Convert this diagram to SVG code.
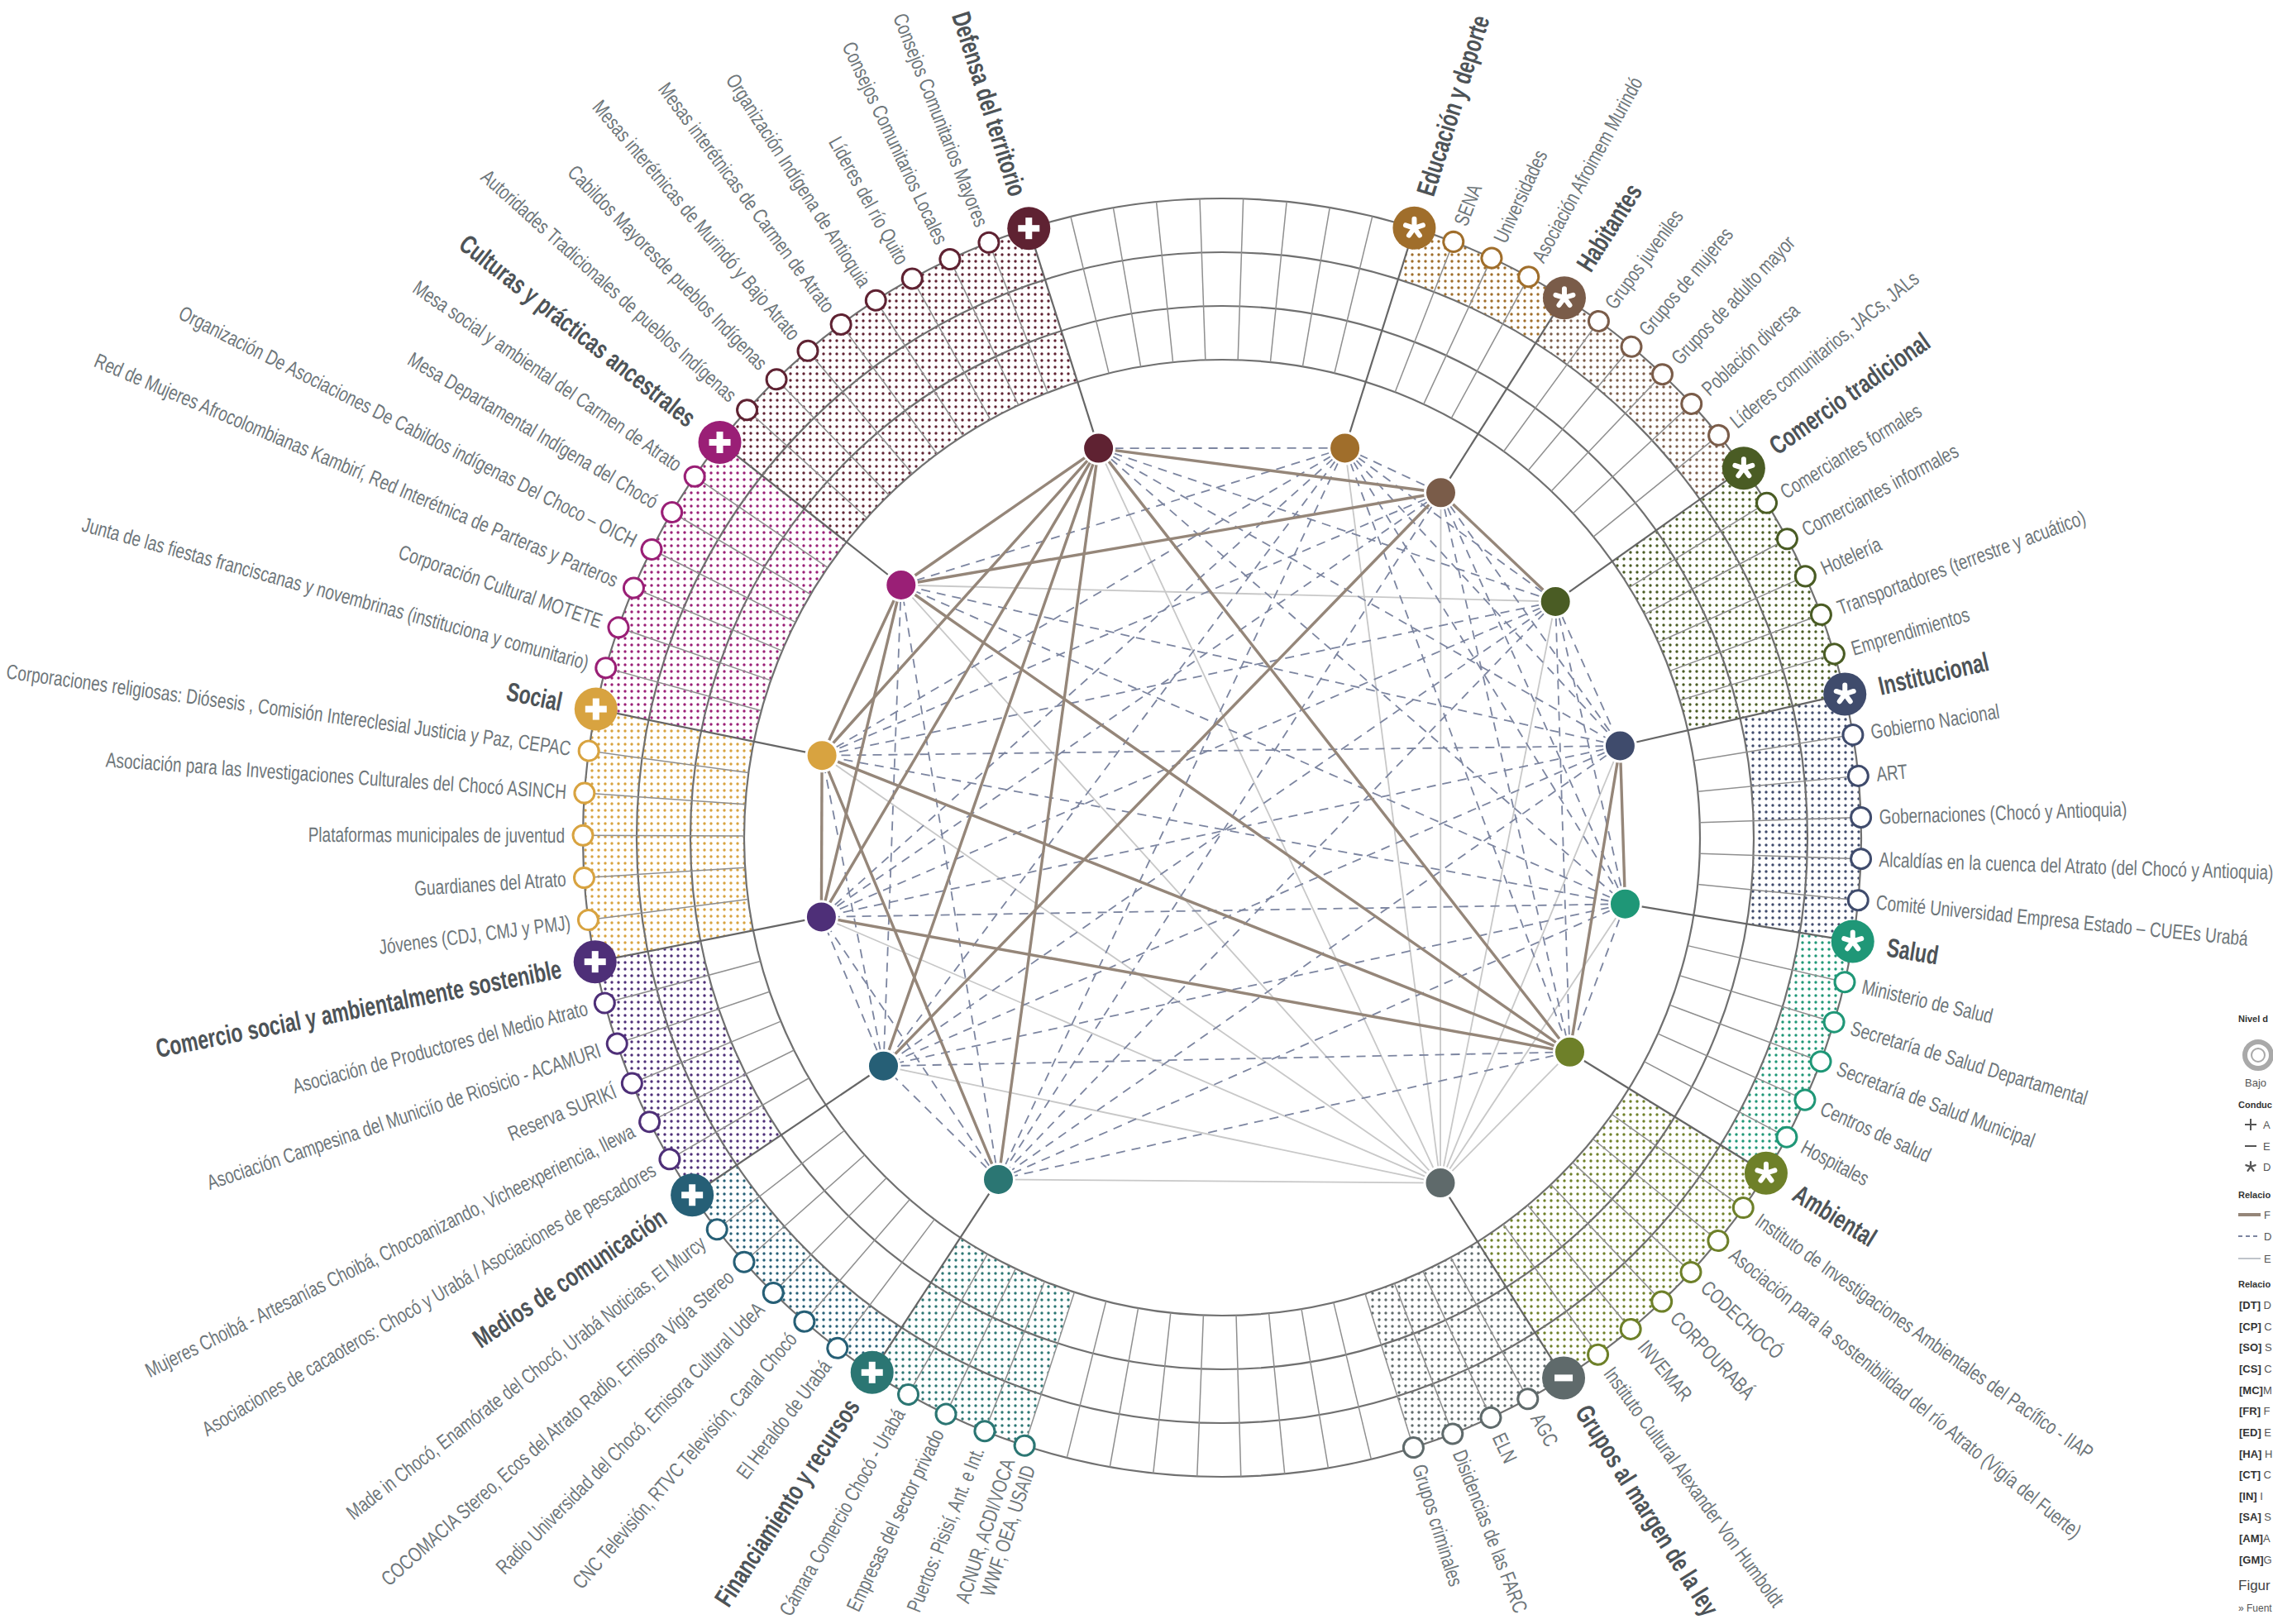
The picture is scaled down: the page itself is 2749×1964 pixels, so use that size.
<svg xmlns="http://www.w3.org/2000/svg" width="2749" height="1964" viewBox="0 0 2749 1964">
<style>
.ring{fill:none;stroke:#707070;stroke-width:2.2}
.rad{stroke:#8f8f8f;stroke-width:1.5}
.cl{stroke:#666;stroke-width:2.2}
.mc{fill:#fff;stroke-width:3}
.ml{font-family:"Liberation Sans",Arial,sans-serif;font-size:25px;fill:#6e767a}
.ct{font-family:"Liberation Sans",Arial,sans-serif;font-size:32px;font-weight:bold;fill:#4d5357}
.ll{text-anchor:end}
.st{stroke:#958679;stroke-width:3.4;fill:none}
.da{stroke:#7c85a0;stroke-width:1.8;stroke-dasharray:11 8;fill:none}
.lt{stroke:#c8c8c8;stroke-width:1.8;fill:none}
.in{stroke:#fff;stroke-width:3}
.sec{fill:none}
.lg{font-family:"Liberation Sans",Arial,sans-serif;font-size:13px;fill:#555}
.lgh{font-family:"Liberation Sans",Arial,sans-serif;font-size:11px;font-weight:bold;fill:#333}
.cD .mc{stroke:#5f2232}.cE .mc{stroke:#a06e2b}.cH .mc{stroke:#7a5c49}.cCT .mc{stroke:#4a5c24}
.cI .mc{stroke:#3f4b6c}.cS .mc{stroke:#1f9777}.cA .mc{stroke:#6e8029}.cG .mc{stroke:#5f6a6b}
.cF .mc{stroke:#2b7673}.cM .mc{stroke:#265f76}.cCS .mc{stroke:#4e2f78}.cSO .mc{stroke:#d8a340}.cCP .mc{stroke:#9a1f76}
</style>
<defs>
<pattern id="pD" width="8" height="8" patternUnits="userSpaceOnUse"><circle cx="4" cy="4" r="1.7" fill="#5f2232"/></pattern>
<pattern id="pE" width="8" height="8" patternUnits="userSpaceOnUse"><circle cx="4" cy="4" r="1.7" fill="#a06e2b"/></pattern>
<pattern id="pH" width="8" height="8" patternUnits="userSpaceOnUse"><circle cx="4" cy="4" r="1.7" fill="#7a5c49"/></pattern>
<pattern id="pCT" width="8" height="8" patternUnits="userSpaceOnUse"><circle cx="4" cy="4" r="1.7" fill="#4a5c24"/></pattern>
<pattern id="pI" width="8" height="8" patternUnits="userSpaceOnUse"><circle cx="4" cy="4" r="1.7" fill="#3f4b6c"/></pattern>
<pattern id="pS" width="8" height="8" patternUnits="userSpaceOnUse"><circle cx="4" cy="4" r="1.7" fill="#1f9777"/></pattern>
<pattern id="pA" width="8" height="8" patternUnits="userSpaceOnUse"><circle cx="4" cy="4" r="1.7" fill="#6e8029"/></pattern>
<pattern id="pG" width="8" height="8" patternUnits="userSpaceOnUse"><circle cx="4" cy="4" r="1.7" fill="#5f6a6b"/></pattern>
<pattern id="pF" width="8" height="8" patternUnits="userSpaceOnUse"><circle cx="4" cy="4" r="1.7" fill="#2b7673"/></pattern>
<pattern id="pM" width="8" height="8" patternUnits="userSpaceOnUse"><circle cx="4" cy="4" r="1.7" fill="#265f76"/></pattern>
<pattern id="pCS" width="8" height="8" patternUnits="userSpaceOnUse"><circle cx="4" cy="4" r="1.7" fill="#4e2f78"/></pattern>
<pattern id="pSO" width="8" height="8" patternUnits="userSpaceOnUse"><circle cx="4" cy="4" r="1.7" fill="#d8a340"/></pattern>
<pattern id="pCP" width="8" height="8" patternUnits="userSpaceOnUse"><circle cx="4" cy="4" r="1.7" fill="#9a1f76"/></pattern>
<line id="rl" x1="0" y1="-773" x2="0" y2="-578"/>
<line id="cln" x1="0" y1="-773" x2="0" y2="-494"/>
<g id="plus" fill="#fff"><rect x="-13" y="-4" width="26" height="8"/><rect x="-4" y="-13" width="8" height="26"/></g>
<path id="ast" d="M0 0V-11M0 0L10.5 -3.4M0 0L6.5 8.9M0 0L-6.5 8.9M0 0L-10.5 -3.4" stroke="#fff" stroke-width="6" stroke-linecap="round" fill="none"/>
<rect id="minus" x="-11" y="-4" width="22" height="8" fill="#fff"/>
</defs>
<rect width="2749" height="1964" fill="#fff"/>

<g id="sectors">
<circle class="sec" cx="1478" cy="1013" r="740.5" stroke="url(#pE)" stroke-width="65" stroke-dasharray="0 3715.7 192.3 6000"/>
<circle class="sec" cx="1478" cy="1013" r="740.5" stroke="url(#pH)" stroke-width="65" stroke-dasharray="0 3907.9 288.5 6000"/>
<circle class="sec" cx="1478" cy="1013" r="675.5" stroke="url(#pCT)" stroke-width="195" stroke-dasharray="0 3828.2 263.2 6000"/>
<circle class="sec" cx="1478" cy="1013" r="708" stroke="url(#pI)" stroke-width="130" stroke-dasharray="0 2063.9 275.8 6000" transform="rotate(180 1478 1013)"/>
<circle class="sec" cx="1478" cy="1013" r="740.5" stroke="url(#pS)" stroke-width="65" stroke-dasharray="0 120.7 288.5 6000"/>
<circle class="sec" cx="1478" cy="1013" r="675.5" stroke="url(#pA)" stroke-width="195" stroke-dasharray="0 373.3 307 6000"/>
<circle class="sec" cx="1478" cy="1013" r="675.5" stroke="url(#pG)" stroke-width="195" stroke-dasharray="0 680.3 175.4 6000"/>
<circle class="sec" cx="1478" cy="1013" r="675.5" stroke="url(#pF)" stroke-width="195" stroke-dasharray="0 1273.3 179.2 6000"/>
<circle class="sec" cx="1478" cy="1013" r="740.5" stroke="url(#pM)" stroke-width="65" stroke-dasharray="0 1592.2 294.7 6000"/>
<circle class="sec" cx="1478" cy="1013" r="708" stroke="url(#pCS)" stroke-width="130" stroke-dasharray="0 1804.1 281.7 6000"/>
<circle class="sec" cx="1478" cy="1013" r="675.5" stroke="url(#pSO)" stroke-width="195" stroke-dasharray="0 1990.2 268.8 6000"/>
<circle class="sec" cx="1478" cy="1013" r="675.5" stroke="url(#pCP)" stroke-width="195" stroke-dasharray="0 2259 313.6 6000"/>
<circle class="sec" cx="1478" cy="1013" r="675.5" stroke="url(#pD)" stroke-width="195" stroke-dasharray="0 2572.6 403.2 6000"/>
</g>

<g id="rings">
<circle class="ring" cx="1478" cy="1013" r="773"/>
<circle class="ring" cx="1478" cy="1013" r="708"/>
<circle class="ring" cx="1478" cy="1013" r="643"/>
<circle class="ring" cx="1478" cy="1013" r="578"/>
</g>

<g id="grid" class="rad" transform="translate(1478 1013)">
<use href="#rl" transform="rotate(21.22)"/><use href="#rl" transform="rotate(24.94)"/><use href="#rl" transform="rotate(28.66)"/>
<use href="#rl" transform="rotate(36.1)"/><use href="#rl" transform="rotate(39.82)"/><use href="#rl" transform="rotate(43.54)"/><use href="#rl" transform="rotate(47.26)"/><use href="#rl" transform="rotate(50.98)"/>
<use href="#rl" transform="rotate(58.42)"/><use href="#rl" transform="rotate(62.14)"/><use href="#rl" transform="rotate(65.86)"/><use href="#rl" transform="rotate(69.58)"/><use href="#rl" transform="rotate(73.3)"/>
<use href="#rl" transform="rotate(80.74)"/><use href="#rl" transform="rotate(84.46)"/><use href="#rl" transform="rotate(88.18)"/><use href="#rl" transform="rotate(91.9)"/><use href="#rl" transform="rotate(95.62)"/>
<use href="#rl" transform="rotate(103.06)"/><use href="#rl" transform="rotate(106.78)"/><use href="#rl" transform="rotate(110.5)"/><use href="#rl" transform="rotate(114.22)"/><use href="#rl" transform="rotate(117.94)"/>
<use href="#rl" transform="rotate(125.38)"/><use href="#rl" transform="rotate(129.1)"/><use href="#rl" transform="rotate(132.82)"/><use href="#rl" transform="rotate(136.54)"/><use href="#rl" transform="rotate(140.26)"/><use href="#rl" transform="rotate(143.98)"/>
<use href="#rl" transform="rotate(151.42)"/><use href="#rl" transform="rotate(155.14)"/><use href="#rl" transform="rotate(158.86)"/><use href="#rl" transform="rotate(162.58)"/>
<use href="#rl" transform="rotate(166.51)"/><use href="#rl" transform="rotate(170.44)"/><use href="#rl" transform="rotate(174.38)"/><use href="#rl" transform="rotate(178.31)"/><use href="#rl" transform="rotate(182.24)"/><use href="#rl" transform="rotate(186.18)"/><use href="#rl" transform="rotate(190.11)"/><use href="#rl" transform="rotate(194.05)"/>
<use href="#rl" transform="rotate(198)"/><use href="#rl" transform="rotate(201.8)"/><use href="#rl" transform="rotate(205.6)"/><use href="#rl" transform="rotate(209.4)"/>
<use href="#rl" transform="rotate(217)"/><use href="#rl" transform="rotate(220.8)"/><use href="#rl" transform="rotate(224.6)"/><use href="#rl" transform="rotate(228.4)"/><use href="#rl" transform="rotate(232.2)"/>
<use href="#rl" transform="rotate(239.8)"/><use href="#rl" transform="rotate(243.6)"/><use href="#rl" transform="rotate(247.4)"/><use href="#rl" transform="rotate(251.2)"/><use href="#rl" transform="rotate(255)"/>
<use href="#rl" transform="rotate(262.6)"/><use href="#rl" transform="rotate(266.4)"/><use href="#rl" transform="rotate(270.2)"/><use href="#rl" transform="rotate(274)"/><use href="#rl" transform="rotate(277.8)"/>
<use href="#rl" transform="rotate(285.4)"/><use href="#rl" transform="rotate(289.2)"/><use href="#rl" transform="rotate(293)"/><use href="#rl" transform="rotate(296.8)"/><use href="#rl" transform="rotate(300.6)"/><use href="#rl" transform="rotate(304.4)"/>
<use href="#rl" transform="rotate(312)"/><use href="#rl" transform="rotate(315.8)"/><use href="#rl" transform="rotate(319.6)"/><use href="#rl" transform="rotate(323.4)"/><use href="#rl" transform="rotate(327.2)"/><use href="#rl" transform="rotate(331)"/><use href="#rl" transform="rotate(334.8)"/><use href="#rl" transform="rotate(338.6)"/>
<use href="#rl" transform="rotate(346.3)"/><use href="#rl" transform="rotate(350.2)"/><use href="#rl" transform="rotate(354.1)"/><use href="#rl" transform="rotate(358)"/><use href="#rl" transform="rotate(1.9)"/><use href="#rl" transform="rotate(5.8)"/><use href="#rl" transform="rotate(9.7)"/><use href="#rl" transform="rotate(13.6)"/>
</g>

<g id="connectors">
<g class="cl" transform="translate(1478 1013)">
<use href="#cln" transform="rotate(17.5)"/><use href="#cln" transform="rotate(32.38)"/><use href="#cln" transform="rotate(54.7)"/><use href="#cln" transform="rotate(77.02)"/><use href="#cln" transform="rotate(99.34)"/><use href="#cln" transform="rotate(121.66)"/><use href="#cln" transform="rotate(147.7)"/><use href="#cln" transform="rotate(213.2)"/><use href="#cln" transform="rotate(236)"/><use href="#cln" transform="rotate(258.8)"/><use href="#cln" transform="rotate(281.6)"/><use href="#cln" transform="rotate(308.2)"/><use href="#cln" transform="rotate(342.4)"/>
</g>
<g class="lt">
<line x1="1742" y1="1430.6" x2="1328.6" y2="542.1"/>
<line x1="1742" y1="1430.6" x2="1626.6" y2="541.9"/>
<line x1="1742" y1="1430.6" x2="1742.5" y2="595.8"/>
<line x1="1742" y1="1430.6" x2="1881.2" y2="727.5"/>
<line x1="1742" y1="1430.6" x2="1959.4" y2="902"/>
<line x1="1742" y1="1430.6" x2="1965.5" y2="1093.2"/>
<line x1="1742" y1="1430.6" x2="1898.5" y2="1272.3"/>
<line x1="1742" y1="1430.6" x2="1207.5" y2="1426.4"/>
<line x1="1742" y1="1430.6" x2="1068.5" y2="1289.2"/>
<line x1="1742" y1="1430.6" x2="993.4" y2="1108.9"/>
<line x1="1742" y1="1430.6" x2="994.1" y2="913.7"/>
<line x1="1742" y1="1430.6" x2="1089.8" y2="707.5"/>
<line x1="1089.8" y1="707.5" x2="1881.2" y2="727.5"/>
</g>
<g class="da">
<line x1="1328.6" y1="542.1" x2="1626.6" y2="541.9"/>
<line x1="1328.6" y1="542.1" x2="1881.2" y2="727.5"/>
<line x1="1328.6" y1="542.1" x2="1959.4" y2="902"/>
<line x1="1328.6" y1="542.1" x2="1965.5" y2="1093.2"/>
<line x1="1626.6" y1="541.9" x2="1742.5" y2="595.8"/>
<line x1="1626.6" y1="541.9" x2="1881.2" y2="727.5"/>
<line x1="1626.6" y1="541.9" x2="1959.4" y2="902"/>
<line x1="1626.6" y1="541.9" x2="1965.5" y2="1093.2"/>
<line x1="1626.6" y1="541.9" x2="1898.5" y2="1272.3"/>
<line x1="1626.6" y1="541.9" x2="1207.5" y2="1426.4"/>
<line x1="1626.6" y1="541.9" x2="1068.5" y2="1289.2"/>
<line x1="1626.6" y1="541.9" x2="993.4" y2="1108.9"/>
<line x1="1626.6" y1="541.9" x2="994.1" y2="913.7"/>
<line x1="1626.6" y1="541.9" x2="1089.8" y2="707.5"/>
<line x1="1742.5" y1="595.8" x2="1959.4" y2="902"/>
<line x1="1742.5" y1="595.8" x2="1965.5" y2="1093.2"/>
<line x1="1742.5" y1="595.8" x2="1898.5" y2="1272.3"/>
<line x1="1742.5" y1="595.8" x2="1207.5" y2="1426.4"/>
<line x1="1742.5" y1="595.8" x2="993.4" y2="1108.9"/>
<line x1="1742.5" y1="595.8" x2="994.1" y2="913.7"/>
<line x1="1881.2" y1="727.5" x2="1959.4" y2="902"/>
<line x1="1881.2" y1="727.5" x2="1965.5" y2="1093.2"/>
<line x1="1881.2" y1="727.5" x2="1898.5" y2="1272.3"/>
<line x1="1881.2" y1="727.5" x2="1207.5" y2="1426.4"/>
<line x1="1881.2" y1="727.5" x2="1068.5" y2="1289.2"/>
<line x1="1881.2" y1="727.5" x2="993.4" y2="1108.9"/>
<line x1="1881.2" y1="727.5" x2="994.1" y2="913.7"/>
<line x1="1959.4" y1="902" x2="1207.5" y2="1426.4"/>
<line x1="1959.4" y1="902" x2="1068.5" y2="1289.2"/>
<line x1="1959.4" y1="902" x2="993.4" y2="1108.9"/>
<line x1="1959.4" y1="902" x2="994.1" y2="913.7"/>
<line x1="1959.4" y1="902" x2="1089.8" y2="707.5"/>
<line x1="1965.5" y1="1093.2" x2="1898.5" y2="1272.3"/>
<line x1="1965.5" y1="1093.2" x2="1207.5" y2="1426.4"/>
<line x1="1965.5" y1="1093.2" x2="1068.5" y2="1289.2"/>
<line x1="1965.5" y1="1093.2" x2="993.4" y2="1108.9"/>
<line x1="1965.5" y1="1093.2" x2="994.1" y2="913.7"/>
<line x1="1965.5" y1="1093.2" x2="1089.8" y2="707.5"/>
<line x1="1898.5" y1="1272.3" x2="1207.5" y2="1426.4"/>
<line x1="1898.5" y1="1272.3" x2="1068.5" y2="1289.2"/>
<line x1="1207.5" y1="1426.4" x2="1068.5" y2="1289.2"/>
<line x1="1207.5" y1="1426.4" x2="993.4" y2="1108.9"/>
<line x1="1207.5" y1="1426.4" x2="1089.8" y2="707.5"/>
<line x1="1068.5" y1="1289.2" x2="993.4" y2="1108.9"/>
<line x1="1068.5" y1="1289.2" x2="994.1" y2="913.7"/>
<line x1="1068.5" y1="1289.2" x2="1089.8" y2="707.5"/>
</g>
<g class="st">
<line x1="1328.6" y1="542.1" x2="1742.5" y2="595.8"/>
<line x1="1328.6" y1="542.1" x2="1089.8" y2="707.5"/>
<line x1="1328.6" y1="542.1" x2="994.1" y2="913.7"/>
<line x1="1328.6" y1="542.1" x2="993.4" y2="1108.9"/>
<line x1="1328.6" y1="542.1" x2="1068.5" y2="1289.2"/>
<line x1="1328.6" y1="542.1" x2="1207.5" y2="1426.4"/>
<line x1="1328.6" y1="542.1" x2="1898.5" y2="1272.3"/>
<line x1="1742.5" y1="595.8" x2="1881.2" y2="727.5"/>
<line x1="1742.5" y1="595.8" x2="1089.8" y2="707.5"/>
<line x1="1742.5" y1="595.8" x2="1068.5" y2="1289.2"/>
<line x1="1089.8" y1="707.5" x2="994.1" y2="913.7"/>
<line x1="1089.8" y1="707.5" x2="993.4" y2="1108.9"/>
<line x1="1089.8" y1="707.5" x2="1898.5" y2="1272.3"/>
<line x1="994.1" y1="913.7" x2="993.4" y2="1108.9"/>
<line x1="994.1" y1="913.7" x2="1207.5" y2="1426.4"/>
<line x1="994.1" y1="913.7" x2="1898.5" y2="1272.3"/>
<line x1="993.4" y1="1108.9" x2="1898.5" y2="1272.3"/>
<line x1="1959.4" y1="902" x2="1965.5" y2="1093.2"/>
<line x1="1959.4" y1="902" x2="1898.5" y2="1272.3"/>
</g>
</g>

<g id="inner-nodes" class="in">
<circle id="in-D" cx="1328.6" cy="542.1" r="19" fill="#5f2232"/>
<circle id="in-E" cx="1626.6" cy="541.9" r="19" fill="#a06e2b"/>
<circle id="in-H" cx="1742.5" cy="595.8" r="19" fill="#7a5c49"/>
<circle id="in-CT" cx="1881.2" cy="727.5" r="19" fill="#4a5c24"/>
<circle id="in-I" cx="1959.4" cy="902" r="19" fill="#3f4b6c"/>
<circle id="in-S" cx="1965.5" cy="1093.2" r="19" fill="#1f9777"/>
<circle id="in-A" cx="1898.5" cy="1272.3" r="19" fill="#6e8029"/>
<circle id="in-G" cx="1742" cy="1430.6" r="19" fill="#5f6a6b"/>
<circle id="in-F" cx="1207.5" cy="1426.4" r="19" fill="#2b7673"/>
<circle id="in-M" cx="1068.5" cy="1289.2" r="19" fill="#265f76"/>
<circle id="in-CS" cx="993.4" cy="1108.9" r="19" fill="#4e2f78"/>
<circle id="in-SO" cx="994.1" cy="913.7" r="19" fill="#d8a340"/>
<circle id="in-CP" cx="1089.8" cy="707.5" r="19" fill="#9a1f76"/>
</g>

<g id="ring-nodes" transform="translate(1478 1013)">
<g id="cat-E" class="cE">
<g id="node-E" transform="rotate(17.5)"><g transform="translate(0 -773) rotate(-17.5)"><circle r="26" fill="#a06e2b"/><use href="#ast"/></g><text class="ct" transform="translate(0 -815) rotate(-90) scale(.72 1)" dy=".35em">Educación y deporte</text></g>
<g id="m-E1" transform="rotate(21.22)"><circle class="mc" cy="-773" r="12"/><text class="ml" transform="translate(0 -795) rotate(-90) scale(.76 1)" dy=".35em">SENA</text></g>
<g id="m-E2" transform="rotate(24.94)"><circle class="mc" cy="-773" r="12"/><text class="ml" transform="translate(0 -795) rotate(-90) scale(.76 1)" dy=".35em">Universidades</text></g>
<g id="m-E3" transform="rotate(28.66)"><circle class="mc" cy="-773" r="12"/><text class="ml" transform="translate(0 -795) rotate(-90) scale(.76 1)" dy=".35em">Asociación Afroimem Murindó</text></g>
</g>
<g id="cat-H" class="cH">
<g id="node-H" transform="rotate(32.38)"><g transform="translate(0 -773) rotate(-32.38)"><circle r="26" fill="#7a5c49"/><use href="#ast"/></g><text class="ct" transform="translate(0 -815) rotate(-90) scale(.72 1)" dy=".35em">Habitantes</text></g>
<g id="m-H1" transform="rotate(36.1)"><circle class="mc" cy="-773" r="12"/><text class="ml" transform="translate(0 -795) rotate(-90) scale(.76 1)" dy=".35em">Grupos juveniles</text></g>
<g id="m-H2" transform="rotate(39.82)"><circle class="mc" cy="-773" r="12"/><text class="ml" transform="translate(0 -795) rotate(-90) scale(.76 1)" dy=".35em">Grupos de mujeres</text></g>
<g id="m-H3" transform="rotate(43.54)"><circle class="mc" cy="-773" r="12"/><text class="ml" transform="translate(0 -795) rotate(-90) scale(.76 1)" dy=".35em">Grupos de adulto mayor</text></g>
<g id="m-H4" transform="rotate(47.26)"><circle class="mc" cy="-773" r="12"/><text class="ml" transform="translate(0 -795) rotate(-90) scale(.76 1)" dy=".35em">Población diversa</text></g>
<g id="m-H5" transform="rotate(50.98)"><circle class="mc" cy="-773" r="12"/><text class="ml" transform="translate(0 -795) rotate(-90) scale(.76 1)" dy=".35em">Líderes comunitarios, JACs, JALs</text></g>
</g>
<g id="cat-CT" class="cCT">
<g id="node-CT" transform="rotate(54.7)"><g transform="translate(0 -773) rotate(-54.7)"><circle r="26" fill="#4a5c24"/><use href="#ast"/></g><text class="ct" transform="translate(0 -815) rotate(-90) scale(.72 1)" dy=".35em">Comercio tradicional</text></g>
<g id="m-CT1" transform="rotate(58.42)"><circle class="mc" cy="-773" r="12"/><text class="ml" transform="translate(0 -795) rotate(-90) scale(.76 1)" dy=".35em">Comerciantes formales</text></g>
<g id="m-CT2" transform="rotate(62.14)"><circle class="mc" cy="-773" r="12"/><text class="ml" transform="translate(0 -795) rotate(-90) scale(.76 1)" dy=".35em">Comerciantes informales</text></g>
<g id="m-CT3" transform="rotate(65.86)"><circle class="mc" cy="-773" r="12"/><text class="ml" transform="translate(0 -795) rotate(-90) scale(.76 1)" dy=".35em">Hotelería</text></g>
<g id="m-CT4" transform="rotate(69.58)"><circle class="mc" cy="-773" r="12"/><text class="ml" transform="translate(0 -795) rotate(-90) scale(.76 1)" dy=".35em">Transportadores (terrestre y acuático)</text></g>
<g id="m-CT5" transform="rotate(73.3)"><circle class="mc" cy="-773" r="12"/><text class="ml" transform="translate(0 -795) rotate(-90) scale(.76 1)" dy=".35em">Emprendimientos</text></g>
</g>
<g id="cat-I" class="cI">
<g id="node-I" transform="rotate(77.02)"><g transform="translate(0 -773) rotate(-77.02)"><circle r="26" fill="#3f4b6c"/><use href="#ast"/></g><text class="ct" transform="translate(0 -815) rotate(-90) scale(.72 1)" dy=".35em">Institucional</text></g>
<g id="m-I1" transform="rotate(80.74)"><circle class="mc" cy="-773" r="12"/><text class="ml" transform="translate(0 -795) rotate(-90) scale(.76 1)" dy=".35em">Gobierno Nacional</text></g>
<g id="m-I2" transform="rotate(84.46)"><circle class="mc" cy="-773" r="12"/><text class="ml" transform="translate(0 -795) rotate(-90) scale(.76 1)" dy=".35em">ART</text></g>
<g id="m-I3" transform="rotate(88.18)"><circle class="mc" cy="-773" r="12"/><text class="ml" transform="translate(0 -795) rotate(-90) scale(.76 1)" dy=".35em">Gobernaciones (Chocó y Antioquia)</text></g>
<g id="m-I4" transform="rotate(91.9)"><circle class="mc" cy="-773" r="12"/><text class="ml" transform="translate(0 -795) rotate(-90) scale(.76 1)" dy=".35em">Alcaldías en la cuenca del Atrato (del Chocó y Antioquia)</text></g>
<g id="m-I5" transform="rotate(95.62)"><circle class="mc" cy="-773" r="12"/><text class="ml" transform="translate(0 -795) rotate(-90) scale(.76 1)" dy=".35em">Comité Universidad Empresa Estado – CUEEs Urabá</text></g>
</g>
<g id="cat-S" class="cS">
<g id="node-S" transform="rotate(99.34)"><g transform="translate(0 -773) rotate(-99.34)"><circle r="26" fill="#1f9777"/><use href="#ast"/></g><text class="ct" transform="translate(0 -815) rotate(-90) scale(.72 1)" dy=".35em">Salud</text></g>
<g id="m-S1" transform="rotate(103.06)"><circle class="mc" cy="-773" r="12"/><text class="ml" transform="translate(0 -795) rotate(-90) scale(.76 1)" dy=".35em">Ministerio de Salud</text></g>
<g id="m-S2" transform="rotate(106.78)"><circle class="mc" cy="-773" r="12"/><text class="ml" transform="translate(0 -795) rotate(-90) scale(.76 1)" dy=".35em">Secretaría de Salud Departamental</text></g>
<g id="m-S3" transform="rotate(110.5)"><circle class="mc" cy="-773" r="12"/><text class="ml" transform="translate(0 -795) rotate(-90) scale(.76 1)" dy=".35em">Secretaría de Salud Municipal</text></g>
<g id="m-S4" transform="rotate(114.22)"><circle class="mc" cy="-773" r="12"/><text class="ml" transform="translate(0 -795) rotate(-90) scale(.76 1)" dy=".35em">Centros de salud</text></g>
<g id="m-S5" transform="rotate(117.94)"><circle class="mc" cy="-773" r="12"/><text class="ml" transform="translate(0 -795) rotate(-90) scale(.76 1)" dy=".35em">Hospitales</text></g>
</g>
<g id="cat-A" class="cA">
<g id="node-A" transform="rotate(121.66)"><g transform="translate(0 -773) rotate(-121.66)"><circle r="26" fill="#6e8029"/><use href="#ast"/></g><text class="ct" transform="translate(0 -815) rotate(-90) scale(.72 1)" dy=".35em">Ambiental</text></g>
<g id="m-A1" transform="rotate(125.38)"><circle class="mc" cy="-773" r="12"/><text class="ml" transform="translate(0 -795) rotate(-90) scale(.76 1)" dy=".35em">Instituto de Investigaciones Ambientales del Pacífico - IIAP</text></g>
<g id="m-A2" transform="rotate(129.1)"><circle class="mc" cy="-773" r="12"/><text class="ml" transform="translate(0 -795) rotate(-90) scale(.76 1)" dy=".35em">Asociación para la sostenibilidad del río Atrato (Vigía del Fuerte)</text></g>
<g id="m-A3" transform="rotate(132.82)"><circle class="mc" cy="-773" r="12"/><text class="ml" transform="translate(0 -795) rotate(-90) scale(.76 1)" dy=".35em">CODECHOCÓ</text></g>
<g id="m-A4" transform="rotate(136.54)"><circle class="mc" cy="-773" r="12"/><text class="ml" transform="translate(0 -795) rotate(-90) scale(.76 1)" dy=".35em">CORPOURABÁ</text></g>
<g id="m-A5" transform="rotate(140.26)"><circle class="mc" cy="-773" r="12"/><text class="ml" transform="translate(0 -795) rotate(-90) scale(.76 1)" dy=".35em">INVEMAR</text></g>
<g id="m-A6" transform="rotate(143.98)"><circle class="mc" cy="-773" r="12"/><text class="ml" transform="translate(0 -795) rotate(-90) scale(.76 1)" dy=".35em">Instituto Cultural Alexander Von Humboldt</text></g>
</g>
<g id="cat-G" class="cG">
<g id="node-G" transform="rotate(147.7)"><g transform="translate(0 -773) rotate(-147.7)"><circle r="26" fill="#5f6a6b"/><use href="#minus"/></g><text class="ct" transform="translate(0 -815) rotate(-90) scale(.72 1)" dy=".35em">Grupos al margen de la ley</text></g>
<g id="m-G1" transform="rotate(151.42)"><circle class="mc" cy="-773" r="12"/><text class="ml" transform="translate(0 -795) rotate(-90) scale(.76 1)" dy=".35em">AGC</text></g>
<g id="m-G2" transform="rotate(155.14)"><circle class="mc" cy="-773" r="12"/><text class="ml" transform="translate(0 -795) rotate(-90) scale(.76 1)" dy=".35em">ELN</text></g>
<g id="m-G3" transform="rotate(158.86)"><circle class="mc" cy="-773" r="12"/><text class="ml" transform="translate(0 -795) rotate(-90) scale(.76 1)" dy=".35em">Disidencias de las FARC</text></g>
<g id="m-G4" transform="rotate(162.58)"><circle class="mc" cy="-773" r="12"/><text class="ml" transform="translate(0 -795) rotate(-90) scale(.76 1)" dy=".35em">Grupos criminales</text></g>
</g>
<g id="cat-F" class="cF">
<g id="node-F" transform="rotate(213.2)"><g transform="translate(0 -773) rotate(-213.2)"><circle r="26" fill="#2b7673"/><use href="#plus"/></g><text class="ct ll" transform="translate(0 -815) rotate(90) scale(.72 1)" dy=".35em">Financiamiento y recursos</text></g>
<g id="m-F1" transform="rotate(209.4)"><circle class="mc" cy="-773" r="12"/><text class="ml ll" transform="translate(0 -795) rotate(90) scale(.76 1)" dy=".35em">Cámara Comercio Chocó - Urabá</text></g>
<g id="m-F2" transform="rotate(205.6)"><circle class="mc" cy="-773" r="12"/><text class="ml ll" transform="translate(0 -795) rotate(90) scale(.76 1)" dy=".35em">Empresas del sector privado</text></g>
<g id="m-F3" transform="rotate(201.8)"><circle class="mc" cy="-773" r="12"/><text class="ml ll" transform="translate(0 -795) rotate(90) scale(.76 1)" dy=".35em">Puertos: Pisisí, Ant. e Int.</text></g>
<g id="m-F4" transform="rotate(198)"><circle class="mc" cy="-773" r="12"/><text class="ml ll" transform="translate(0 -795) rotate(90) scale(.76 1)"><tspan x="0" dy="-0.2em">ACNUR, ACDI/VOCA</tspan><tspan x="0" dy="1.05em">WWF, OEA, USAID</tspan></text></g>
</g>
<g id="cat-M" class="cM">
<g id="node-M" transform="rotate(236)"><g transform="translate(0 -773) rotate(-236)"><circle r="26" fill="#265f76"/><use href="#plus"/></g><text class="ct ll" transform="translate(0 -815) rotate(90) scale(.72 1)" dy=".35em">Medios de comunicación</text></g>
<g id="m-M1" transform="rotate(232.2)"><circle class="mc" cy="-773" r="12"/><text class="ml ll" transform="translate(0 -795) rotate(90) scale(.76 1)" dy=".35em">Made in Chocó,  Enamórate del Chocó, Urabá Noticias, El Murcy</text></g>
<g id="m-M2" transform="rotate(228.4)"><circle class="mc" cy="-773" r="12"/><text class="ml ll" transform="translate(0 -795) rotate(90) scale(.76 1)" dy=".35em">COCOMACIA Stereo, Ecos del Atrato Radio, Emisora Vigía Stereo</text></g>
<g id="m-M3" transform="rotate(224.6)"><circle class="mc" cy="-773" r="12"/><text class="ml ll" transform="translate(0 -795) rotate(90) scale(.76 1)" dy=".35em">Radio Universidad del Chocó, Emisora Cultural UdeA</text></g>
<g id="m-M4" transform="rotate(220.8)"><circle class="mc" cy="-773" r="12"/><text class="ml ll" transform="translate(0 -795) rotate(90) scale(.76 1)" dy=".35em">CNC Televisión, RTVC Televisión, Canal Chocó</text></g>
<g id="m-M5" transform="rotate(217)"><circle class="mc" cy="-773" r="12"/><text class="ml ll" transform="translate(0 -795) rotate(90) scale(.76 1)" dy=".35em">El Heraldo de Urabá</text></g>
</g>
<g id="cat-CS" class="cCS">
<g id="node-CS" transform="rotate(258.8)"><g transform="translate(0 -773) rotate(-258.8)"><circle r="26" fill="#4e2f78"/><use href="#plus"/></g><text class="ct ll" transform="translate(0 -815) rotate(90) scale(.72 1)" dy=".35em">Comercio social y ambientalmente sostenible</text></g>
<g id="m-CS1" transform="rotate(255)"><circle class="mc" cy="-773" r="12"/><text class="ml ll" transform="translate(0 -795) rotate(90) scale(.76 1)" dy=".35em">Asociación de Productores del Medio Atrato</text></g>
<g id="m-CS2" transform="rotate(251.2)"><circle class="mc" cy="-773" r="12"/><text class="ml ll" transform="translate(0 -795) rotate(90) scale(.76 1)" dy=".35em">Asociación Campesina del Municiío de Riosicio - ACAMURI</text></g>
<g id="m-CS3" transform="rotate(247.4)"><circle class="mc" cy="-773" r="12"/><text class="ml ll" transform="translate(0 -795) rotate(90) scale(.76 1)" dy=".35em">Reserva SURIKÍ</text></g>
<g id="m-CS4" transform="rotate(243.6)"><circle class="mc" cy="-773" r="12"/><text class="ml ll" transform="translate(0 -795) rotate(90) scale(.76 1)" dy=".35em">Mujeres Choibá - Artesanías Choibá, Chocoanizando, Vicheexperiencia, Ilewa</text></g>
<g id="m-CS5" transform="rotate(239.8)"><circle class="mc" cy="-773" r="12"/><text class="ml ll" transform="translate(0 -795) rotate(90) scale(.76 1)" dy=".35em">Asociaciones de cacaoteros: Chocó y Urabá / Asociaciones de pescadores</text></g>
</g>
<g id="cat-SO" class="cSO">
<g id="node-SO" transform="rotate(281.6)"><g transform="translate(0 -773) rotate(-281.6)"><circle r="26" fill="#d8a340"/><use href="#plus"/></g><text class="ct ll" transform="translate(0 -815) rotate(90) scale(.72 1)" dy=".35em">Social</text></g>
<g id="m-SO1" transform="rotate(277.8)"><circle class="mc" cy="-773" r="12"/><text class="ml ll" transform="translate(0 -795) rotate(90) scale(.76 1)" dy=".35em">Corporaciones religiosas: Diósesis , Comisión Intereclesial Justicia y Paz, CEPAC</text></g>
<g id="m-SO2" transform="rotate(274)"><circle class="mc" cy="-773" r="12"/><text class="ml ll" transform="translate(0 -795) rotate(90) scale(.76 1)" dy=".35em">Asociación para las Investigaciones Culturales del Chocó ASINCH</text></g>
<g id="m-SO3" transform="rotate(270.2)"><circle class="mc" cy="-773" r="12"/><text class="ml ll" transform="translate(0 -795) rotate(90) scale(.76 1)" dy=".35em">Plataformas municipales de juventud</text></g>
<g id="m-SO4" transform="rotate(266.4)"><circle class="mc" cy="-773" r="12"/><text class="ml ll" transform="translate(0 -795) rotate(90) scale(.76 1)" dy=".35em">Guardianes del Atrato</text></g>
<g id="m-SO5" transform="rotate(262.6)"><circle class="mc" cy="-773" r="12"/><text class="ml ll" transform="translate(0 -795) rotate(90) scale(.76 1)" dy=".35em">Jóvenes (CDJ, CMJ y PMJ)</text></g>
</g>
<g id="cat-CP" class="cCP">
<g id="node-CP" transform="rotate(308.2)"><g transform="translate(0 -773) rotate(-308.2)"><circle r="26" fill="#9a1f76"/><use href="#plus"/></g><text class="ct ll" transform="translate(0 -815) rotate(90) scale(.72 1)" dy=".35em">Culturas y prácticas ancestrales</text></g>
<g id="m-CP1" transform="rotate(304.4)"><circle class="mc" cy="-773" r="12"/><text class="ml ll" transform="translate(0 -795) rotate(90) scale(.76 1)" dy=".35em">Mesa social y ambiental del Carmen de Atrato</text></g>
<g id="m-CP2" transform="rotate(300.6)"><circle class="mc" cy="-773" r="12"/><text class="ml ll" transform="translate(0 -795) rotate(90) scale(.76 1)" dy=".35em">Mesa Departamental Indígena del Chocó</text></g>
<g id="m-CP3" transform="rotate(296.8)"><circle class="mc" cy="-773" r="12"/><text class="ml ll" transform="translate(0 -795) rotate(90) scale(.76 1)" dy=".35em">Organización De Asociaciones De Cabildos indígenas Del Choco – OICH</text></g>
<g id="m-CP4" transform="rotate(293)"><circle class="mc" cy="-773" r="12"/><text class="ml ll" transform="translate(0 -795) rotate(90) scale(.76 1)" dy=".35em">Red de Mujeres Afrocolombianas Kambirí, Red Interétnica de Parteras y Parteros</text></g>
<g id="m-CP5" transform="rotate(289.2)"><circle class="mc" cy="-773" r="12"/><text class="ml ll" transform="translate(0 -795) rotate(90) scale(.76 1)" dy=".35em">Corporación Cultural MOTETE</text></g>
<g id="m-CP6" transform="rotate(285.4)"><circle class="mc" cy="-773" r="12"/><text class="ml ll" transform="translate(0 -795) rotate(90) scale(.76 1)" dy=".35em">Junta de las fiestas franciscanas y novembrinas (instituciona y comunitario)</text></g>
</g>
<g id="cat-D" class="cD">
<g id="node-D" transform="rotate(342.4)"><g transform="translate(0 -773) rotate(-342.4)"><circle r="26" fill="#5f2232"/><use href="#plus"/></g><text class="ct ll" transform="translate(0 -815) rotate(90) scale(.72 1)" dy=".35em">Defensa del territorio</text></g>
<g id="m-D1" transform="rotate(338.6)"><circle class="mc" cy="-773" r="12"/><text class="ml ll" transform="translate(0 -795) rotate(90) scale(.76 1)" dy=".35em">Consejos Comunitarios Mayores</text></g>
<g id="m-D2" transform="rotate(334.8)"><circle class="mc" cy="-773" r="12"/><text class="ml ll" transform="translate(0 -795) rotate(90) scale(.76 1)" dy=".35em">Consejos Comunitarios Locales</text></g>
<g id="m-D3" transform="rotate(331)"><circle class="mc" cy="-773" r="12"/><text class="ml ll" transform="translate(0 -795) rotate(90) scale(.76 1)" dy=".35em">Líderes del río Quito</text></g>
<g id="m-D4" transform="rotate(327.2)"><circle class="mc" cy="-773" r="12"/><text class="ml ll" transform="translate(0 -795) rotate(90) scale(.76 1)" dy=".35em">Organización Indígena de Antioquia</text></g>
<g id="m-D5" transform="rotate(323.4)"><circle class="mc" cy="-773" r="12"/><text class="ml ll" transform="translate(0 -795) rotate(90) scale(.76 1)" dy=".35em">Mesas interétnicas de Carmen de Atrato</text></g>
<g id="m-D6" transform="rotate(319.6)"><circle class="mc" cy="-773" r="12"/><text class="ml ll" transform="translate(0 -795) rotate(90) scale(.76 1)" dy=".35em">Mesas interétnicas de Murindó y Bajo Atrato</text></g>
<g id="m-D7" transform="rotate(315.8)"><circle class="mc" cy="-773" r="12"/><text class="ml ll" transform="translate(0 -795) rotate(90) scale(.76 1)" dy=".35em">Cabildos Mayoresde pueblos Indígenas</text></g>
<g id="m-D8" transform="rotate(312)"><circle class="mc" cy="-773" r="12"/><text class="ml ll" transform="translate(0 -795) rotate(90) scale(.76 1)" dy=".35em">Autoridades Tradicionales de pueblos Indígenas</text></g>
</g>
</g>

<g id="legend">
<text class="lgh" x="2707" y="1236">Nivel d</text>
<circle cx="2731" cy="1276" r="16" fill="none" stroke="#a9a9a9" stroke-width="6"/>
<circle cx="2731" cy="1276" r="8" fill="none" stroke="#a9a9a9" stroke-width="2"/>
<text class="lg" x="2715" y="1314" fill="#777">Bajo</text>
<text class="lgh" x="2707" y="1340">Conduc</text>
<path d="M2715 1360H2729M2722 1353V1367" stroke="#555" stroke-width="2"/>
<text class="lg" x="2737" y="1365">A</text>
<path d="M2715 1386H2729" stroke="#555" stroke-width="2"/>
<text class="lg" x="2737" y="1391">E</text>
<path d="M2722 1411V1405M2722 1411L2727.7 1409.1M2722 1411L2725.5 1415.9M2722 1411L2718.5 1415.9M2722 1411L2716.3 1409.1" stroke="#555" stroke-width="2.2" stroke-linecap="round"/>
<text class="lg" x="2737" y="1416">D</text>
<text class="lgh" x="2707" y="1449">Relacio</text>
<line x1="2707" y1="1469" x2="2734" y2="1469" stroke="#958679" stroke-width="4"/>
<text class="lg" x="2738" y="1474">F</text>
<line x1="2707" y1="1495" x2="2734" y2="1495" stroke="#7c85a0" stroke-width="1.8" stroke-dasharray="5 4"/>
<text class="lg" x="2738" y="1500">D</text>
<line x1="2707" y1="1522" x2="2734" y2="1522" stroke="#aab0b8" stroke-width="1.5"/>
<text class="lg" x="2738" y="1527">E</text>
<text class="lgh" x="2707" y="1557">Relacio</text>
<g class="lg"><text x="2708" y="1583"><tspan font-weight="bold" fill="#333">[DT]</tspan> D</text>
<text x="2708" y="1609"><tspan font-weight="bold" fill="#333">[CP]</tspan> C</text>
<text x="2708" y="1634"><tspan font-weight="bold" fill="#333">[SO]</tspan> S</text>
<text x="2708" y="1660"><tspan font-weight="bold" fill="#333">[CS]</tspan> C</text>
<text x="2708" y="1686"><tspan font-weight="bold" fill="#333">[MC]</tspan>M</text>
<text x="2708" y="1711"><tspan font-weight="bold" fill="#333">[FR]</tspan> F</text>
<text x="2708" y="1737"><tspan font-weight="bold" fill="#333">[ED]</tspan> E</text>
<text x="2708" y="1763"><tspan font-weight="bold" fill="#333">[HA]</tspan> H</text>
<text x="2708" y="1788"><tspan font-weight="bold" fill="#333">[CT]</tspan> C</text>
<text x="2708" y="1814"><tspan font-weight="bold" fill="#333">[IN]</tspan> I</text>
<text x="2708" y="1839"><tspan font-weight="bold" fill="#333">[SA]</tspan> S</text>
<text x="2708" y="1865"><tspan font-weight="bold" fill="#333">[AM]</tspan>A</text>
<text x="2708" y="1891"><tspan font-weight="bold" fill="#333">[GM]</tspan>G</text></g>
<text x="2707" y="1923" font-family="Liberation Sans, Arial, sans-serif" font-size="17" fill="#444">Figur</text>
<text x="2707" y="1949" font-family="Liberation Sans, Arial, sans-serif" font-size="12" fill="#555">» Fuent</text>
</g>
</svg>
